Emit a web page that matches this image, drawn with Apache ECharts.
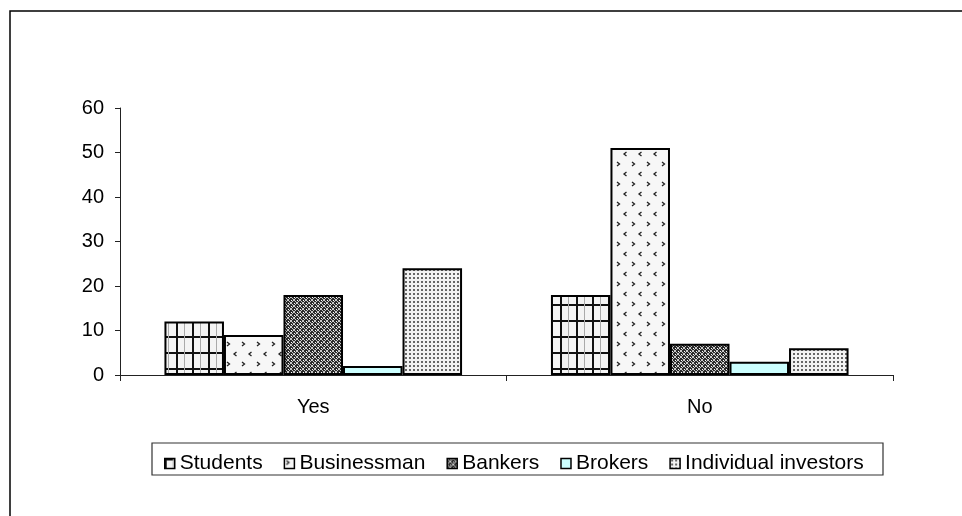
<!DOCTYPE html>
<html>
<head>
<meta charset="utf-8">
<script src="https://cdn.jsdelivr.net/npm/echarts@6/dist/echarts.min.js"></script>
<style>
  html, body { margin: 0; padding: 0; background: #fff; }
  #chart { width: 962px; height: 516px; }
</style>
</head>
<body>
<div id="chart"></div>
<script>
// Survey answers by respondent group
const categories = ['Yes', 'No'];
const groups = ['Students', 'Businessman', 'Bankers', 'Brokers', 'Individual investors'];
const students = [12, 18];
const businessman = [9, 51];
const bankers = [18, 7];
const brokers = [2, 3];
const individualInvestors = [24, 6];
const yTicks = [0, 10, 20, 30, 40, 50, 60];

// Small repeating tiles used as hatch fills for the bars
function tile(w, h, draw) {
  const c = document.createElement('canvas');
  c.width = w; c.height = h;
  const g = c.getContext('2d');
  draw(g, w, h);
  return c;
}

const gridTile = tile(16, 16, (g, w, h) => {
  g.fillStyle = '#f4f4f4'; g.fillRect(0, 0, w, h);
  g.fillStyle = '#111';
  g.fillRect(0, 0, 2, h);
  g.fillRect(0, 0, w, 2);
  g.fillStyle = '#aaa';
  g.fillRect(8, 0, 1, h);
});

const chevronTile = tile(15, 20, (g, w, h) => {
  g.fillStyle = '#f7f7f7'; g.fillRect(0, 0, w, h);
  g.strokeStyle = '#222'; g.lineWidth = 1.3;
  g.beginPath();
  g.moveTo(2, 2); g.lineTo(4.5, 4); g.lineTo(2, 6);
  g.moveTo(11.5, 12); g.lineTo(9, 14); g.lineTo(11.5, 16);
  g.stroke();
});

const lattice = tile(6, 6, (g, w, h) => {
  g.fillStyle = '#2a2a2a'; g.fillRect(0, 0, w, h);
  g.strokeStyle = '#c8c8c8'; g.lineWidth = 1;
  g.beginPath();
  g.moveTo(0, 0); g.lineTo(6, 6);
  g.moveTo(6, 0); g.lineTo(0, 6);
  g.stroke();
  g.fillStyle = '#fff';
  g.fillRect(3, 0, 1, 1);
  g.fillRect(0, 3, 1, 1);
});

const dotTile = tile(4, 4, (g, w, h) => {
  g.fillStyle = '#f2f2f2'; g.fillRect(0, 0, w, h);
  g.fillStyle = '#666';
  g.fillRect(1, 1, 2, 2);
});

const fills = [
  { image: gridTile, repeat: 'repeat' },
  { image: chevronTile, repeat: 'repeat' },
  { image: lattice, repeat: 'repeat' },
  '#ccffff',
  { image: dotTile, repeat: 'repeat' }
];
const values = [students, businessman, bankers, brokers, individualInvestors];

const font = 'Liberation Sans, Arial, sans-serif';

const chart = echarts.init(document.getElementById('chart'), null, { renderer: 'canvas' });

chart.setOption({
  animation: false,
  backgroundColor: '#fff',
  textStyle: { fontFamily: font },
  graphic: [
    {
      type: 'rect',
      shape: { x: 10, y: 11, width: 1000, height: 600 },
      style: { fill: 'none', stroke: '#000', lineWidth: 1.5 },
      z: -1
    },
    {
      type: 'rect',
      shape: { x: 152, y: 443, width: 731, height: 32 },
      style: { fill: 'none', stroke: '#333', lineWidth: 1.2 },
      z: -1
    }
  ],
  grid: { left: 120, right: 69, top: 108, bottom: 141 },
  legend: {
    left: 159,
    top: 448,
    itemWidth: 10,
    itemHeight: 10,
    itemGap: 21,
    icon: 'rect',
    textStyle: { fontSize: 21, color: '#000', fontFamily: font },
    itemStyle: { borderColor: '#000', borderWidth: 1.5 },
    data: groups
  },
  xAxis: {
    type: 'category',
    data: categories,
    axisLine: { lineStyle: { color: '#222', width: 1 } },
    axisTick: { show: true, alignWithLabel: false, length: 6, lineStyle: { color: '#222' } },
    axisLabel: { fontSize: 20, color: '#000', margin: 22, fontFamily: font }
  },
  yAxis: {
    type: 'value',
    min: 0,
    max: 60,
    interval: 10,
    axisLine: { show: true, lineStyle: { color: '#222', width: 1 } },
    axisTick: { show: true, length: 5, lineStyle: { color: '#222' } },
    splitLine: { show: false },
    axisLabel: {
      fontSize: 20, color: '#000', margin: 16, fontFamily: font,
      formatter: v => (yTicks.indexOf(v) >= 0 ? String(v) : '')
    }
  },
  series: groups.map((name, i) => ({
    name: name,
    type: 'bar',
    data: values[i],
    barGap: '0%',
    barCategoryGap: '23%',
    itemStyle: {
      color: fills[i],
      borderColor: '#000',
      borderWidth: 2
    }
  }))
});
</script>
</body>
</html>
